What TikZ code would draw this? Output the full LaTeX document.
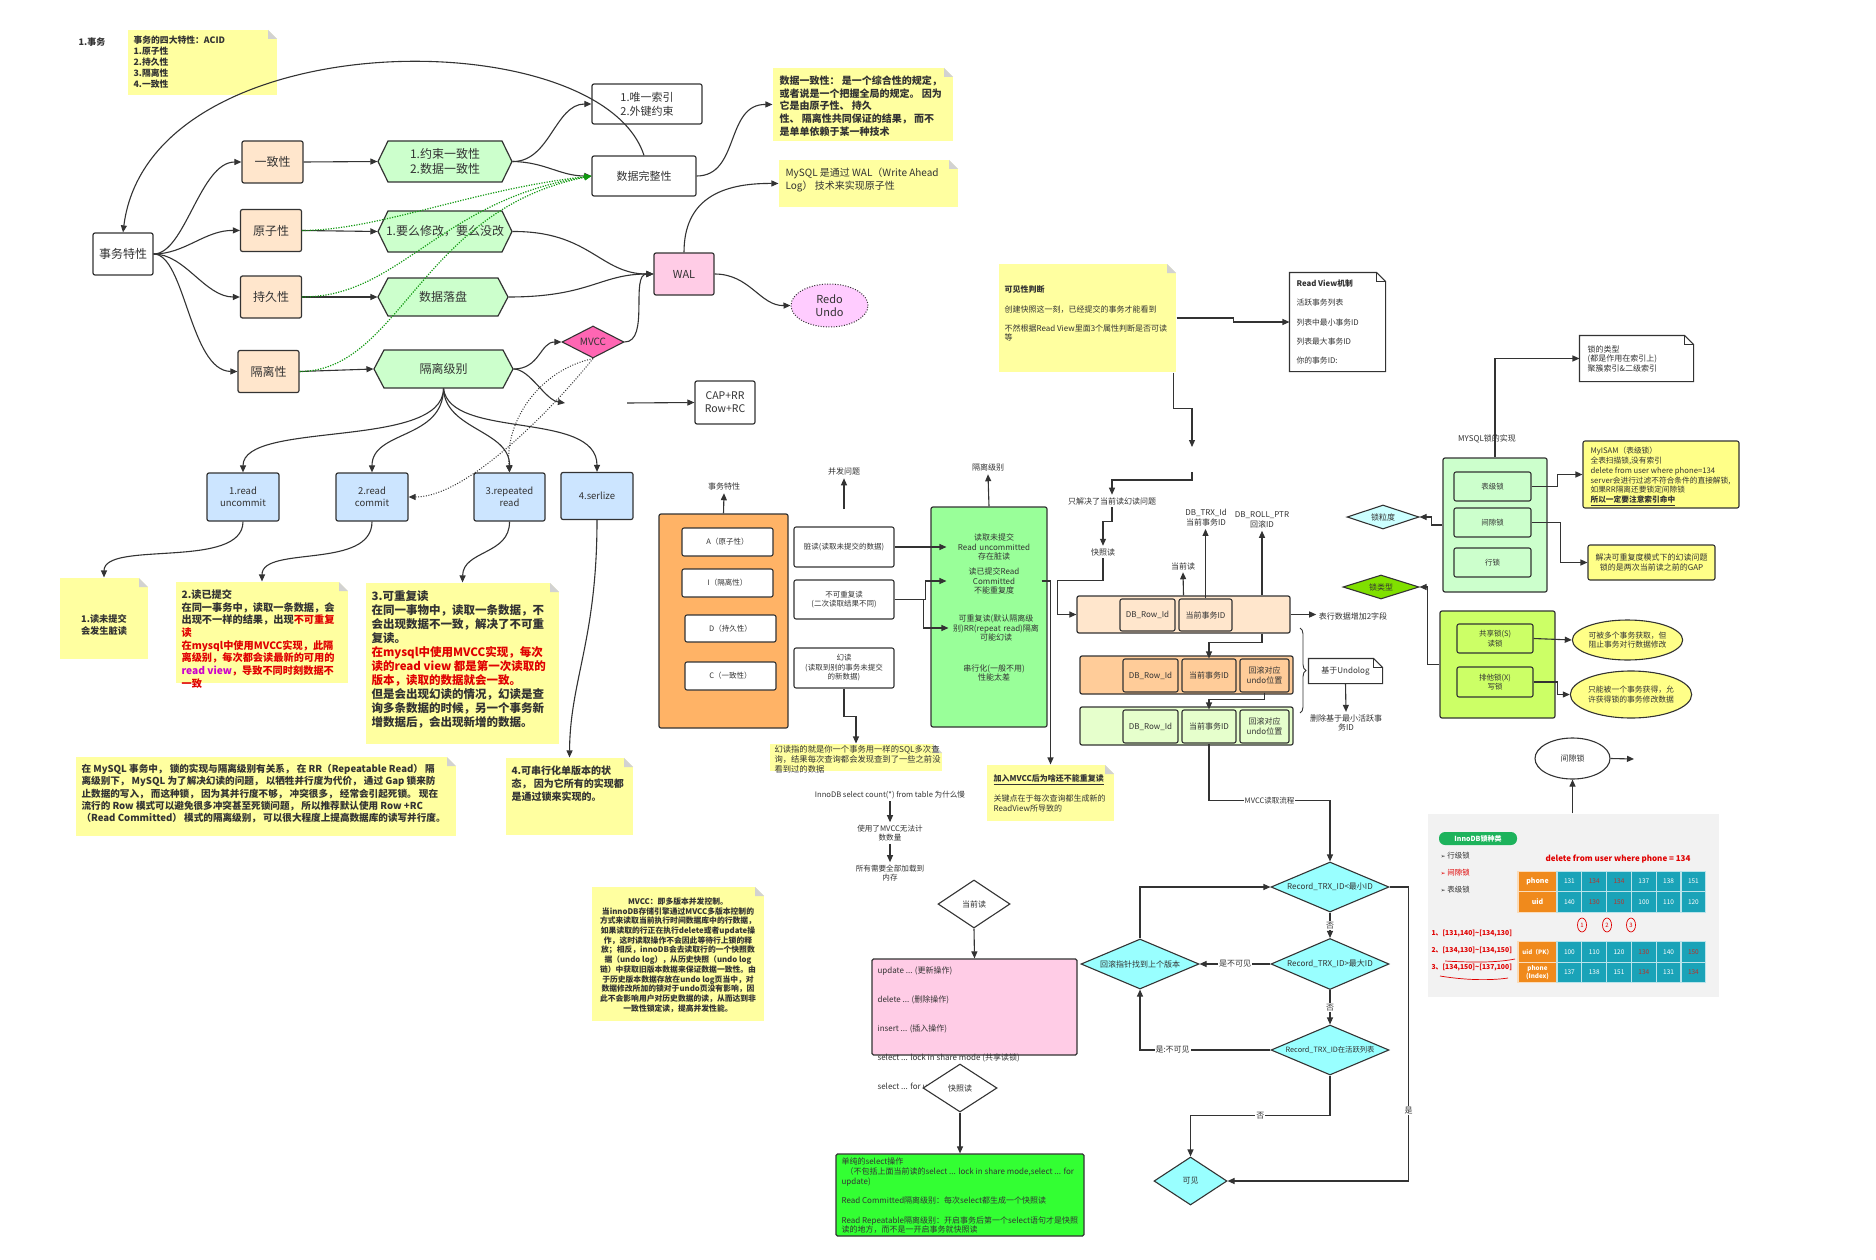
\documentclass[tikz,border=0pt]{standalone}
\usepackage{fontspec}
\setmainfont{Noto Sans CJK SC}[AutoFakeSlant=0.2]
\newfontfamily\dejavu{DejaVu Sans}
\usetikzlibrary{arrows.meta, shapes.geometric, calc, decorations.pathreplacing}

\definecolor{txtc}{HTML}{333333}
\definecolor{notey}{HTML}{FFFFA0}
\definecolor{peach}{HTML}{FFE6CC}
\definecolor{hexg}{HTML}{CCFFCC}
\definecolor{lblue}{HTML}{CCE5FF}
\definecolor{walp}{HTML}{FFCCE6}
\definecolor{mvccp}{HTML}{FF66B3}
\definecolor{redop}{HTML}{FFCCFF}
\definecolor{orbox}{HTML}{FFB366}
\definecolor{grbox}{HTML}{99FF99}
\definecolor{rowb}{HTML}{FFCC99}
\definecolor{rowc}{HTML}{E6FFCC}
\definecolor{cyand}{HTML}{99FFFF}
\definecolor{lcyan}{HTML}{CCFFFF}
\definecolor{lgreen}{HTML}{80E000}
\definecolor{lockg}{HTML}{CCFF66}
\definecolor{elly}{HTML}{FFFF88}
\definecolor{selg}{HTML}{33FF33}
\definecolor{panelc}{HTML}{F2F2F2}
\definecolor{tealc}{HTML}{1AA3B8}
\definecolor{hdrorg}{HTML}{F08A1C}
\definecolor{pillg}{HTML}{1DB35C}
\definecolor{dred}{HTML}{E00000}
\definecolor{tred}{HTML}{B8322A}
\definecolor{dmag}{HTML}{CC00CC}
\definecolor{gdotc}{HTML}{119911}

\newcommand\fs[2]{\fontsize{#1}{#2}\selectfont}
\newcommand\tr[1]{\textcolor{tred}{#1}}
% hexagon: name, x0, y0, x1, y1, text
\newcommand\hexa[6]{%
  \filldraw[fill=hexg, draw=txtc, line width=1.2pt] (#2,{(#3+#5)/2}) -- ({#2+10},#3) -- ({#4-10},#3) -- (#4,{(#3+#5)/2}) -- ({#4-10},#5) -- ({#2+10},#5) -- cycle;
  \node[minimum width={#4-#2}, minimum height={#5-#3}, inner sep=0pt, font=\fs{12}{15}, align=center] (#1) at ({(#2+#4)/2},{(#3+#5)/2}) {#6};}
% outline of a folded note
\newcommand\foldline[1]{%
  \draw[line width=1.1pt] (#1.south west) -- (#1.north west) -- ([xshift=-9pt]#1.north east) -- ([yshift=-9pt]#1.north east) -- (#1.south east) -- cycle;
  \draw[line width=1.1pt] ([xshift=-9pt]#1.north east) -- ([xshift=-9pt,yshift=-9pt]#1.north east) -- ([yshift=-9pt]#1.north east);}

\tikzset{
  box/.style={draw=txtc, line width=1.2pt, rounded corners=2pt, align=center, inner sep=1pt},
  pbox/.style={box, fill=peach, minimum width=61, minimum height=42, font=\fs{12}{14}},
  ibox/.style={box, fill=lblue, minimum width=72, minimum height=48, font=\fs{9.5}{12}},
  cell/.style={box, line width=1.1pt, font=\fs{7.5}{9.5}},
  note/.style={fill=notey, inner sep=0pt, path picture={
      \fill[white] (path picture bounding box.north east) -- ++(-9pt,0) -- ++(9pt,-9pt) -- cycle;
      \fill[gray!35] ([xshift=-9pt]path picture bounding box.north east) -- ++(0,-9pt) -- ++(9pt,0) -- cycle;}},
  fnote/.style={fill=white, inner sep=1pt},
  ybox/.style={fill=elly, draw=txtc, line width=1.1pt, rounded corners=2pt, inner sep=1pt},
  ntext/.style={anchor=north west, align=left, inner sep=0pt},
  lbl/.style={font=\fs{8}{9.8}, align=center, inner sep=2pt},
  lab/.style={fill=white, font=\fs{8}{9.8}, inner sep=1pt},
  dia/.style={diamond, draw=txtc, line width=1.1pt, inner sep=0pt, aspect=2.4, font=\fs{8}{9.8}},
  gdot/.style={draw=gdotc, line width=1.2pt, dash pattern=on 1.2pt off 1.4pt},
  kdot/.style={line width=1pt, dash pattern=on 1pt off 1.6pt},
  tcell/.style={draw=white!70!tealc, fill=tealc, text=white, font=\fs{6.5}{8}, minimum width=24.8, minimum height=20.5, inner sep=0pt},
  hcell/.style={draw=white!70!hdrorg, fill=hdrorg, text=white, font=\fs{7}{8}\bfseries, minimum width=39, minimum height=20.5, inner sep=0pt, align=center},
}

\begin{document}
\begin{tikzpicture}[x=1pt, y=-1pt, color=txtc, line width=1.1pt,
    >={Triangle[length=7pt,width=6pt]}]
  \fill[white] (0,0) rectangle (1876,1260);
  \useasboundingbox (0,0) rectangle (1876,1260);

  % Title and ACID note
  \node[font=\fs{9}{11}\bfseries] (title) at (92,42) {1.事务};
  \node[note, minimum width=149, minimum height=65] (acid) at (202.5,62.5) {};
  \node[ntext, font=\fs{8.8}{11}\bfseries] (acidtxt) at (133,35.5) {事务的四大特性：ACID\\1.原子性\\2.持久性\\3.隔离性\\4.一致性};

  % Root and the four properties
  \node[box, minimum width=60, minimum height=42, font=\fs{12}{14}] (sw) at (123,254) {事务特性};
  \node[pbox] (yz) at (272.5,162) {一致性};
  \node[pbox] (yzx) at (271,230.5) {原子性};
  \node[pbox] (cj) at (271,297) {持久性};
  \node[pbox] (gl) at (268.5,371.5) {隔离性};
  \hexa{h1}{378}{141}{512}{182}{1.约束一致性\\2.数据一致性}
  \hexa{h2}{378}{211}{512}{252}{1.要么修改，要么没改}
  \hexa{h3}{378}{278}{508}{316}{数据落盘}
  \hexa{h4}{374}{350}{513}{388}{隔离级别}

  \draw[->] (sw.east) .. controls (185,254) and (200,162) .. (yz.west);
  \draw[->] (sw.east) .. controls (185,254) and (205,230) .. (yzx.west);
  \draw[->] (sw.east) .. controls (185,254) and (205,297) .. (cj.west);
  \draw[->] (sw.east) .. controls (185,254) and (190,371) .. (gl.west);
  \draw[->] (yz.east) -- (h1.west);
  \draw[->] (yzx.east) -- (h2.west);
  \draw[->] (cj.east) -- (h3.west);
  \draw[->] (gl.east) -- (h4.west);

  % Integrity, WAL, MVCC
  \node[box, minimum width=110, minimum height=40, font=\fs{11}{14}] (wy) at (647,104) {1.唯一索引\\2.外键约束};
  \node[box, minimum width=104, minimum height=40, font=\fs{11}{14}] (sj) at (644,176) {数据完整性};
  \node[box, fill=walp, minimum width=60, minimum height=42, font=\fs{11}{14}] (wal) at (684,274) {WAL};
  \node[ellipse, draw=txtc, kdot, fill=redop, minimum width=77, minimum height=43, font=\fs{11}{13}, align=center, inner sep=0pt] (redo) at (829.5,305.5) {Redo\\Undo};
  \node[dia, aspect=2, fill=mvccp, minimum width=62, minimum height=32, font=\fs{10}{12}] (mvcc) at (593,342) {MVCC};
  \node[box, minimum width=60, minimum height=43, font=\fs{10.5}{13}] (cap) at (725,402.5) {CAP+RR\\Row+RC};

  \draw[->] (h1.east) .. controls (550,162) and (555,104) .. (wy.west);
  \draw[->] (h1.east) .. controls (545,162) and (560,176) .. (sj.west);
  \draw[gdot, ->] (yzx.east) .. controls (380,230) and (470,190) .. (sj.west);
  \draw[gdot, ->] (cj.east) .. controls (400,297) and (440,200) .. (sj.west);
  \draw[gdot, ->] (gl.east) .. controls (400,371) and (420,210) .. (sj.west);
  \draw[->] (sj.north) .. controls (600,20) and (150,20) .. (sw.north);
  \draw[->] (h2.east) .. controls (590,231) and (600,274) .. (wal.west);
  \draw[->] (h3.east) .. controls (590,297) and (600,274) .. (wal.west);
  \draw[->] (h4.east) .. controls (540,369) and (540,342) .. (mvcc.west);
  \draw[->] (mvcc.east) .. controls (650,342) and (630,274) .. (wal.west);
  \coordinate (capin) at (565,403);
  \coordinate (capout) at (627,403);
  \draw[->] (h4.east) .. controls (530,369) and (545,400) .. (capin);
  \draw[->] (capout) -- (cap.west);
  \draw[->] (wal.east) .. controls (750,274) and (760,306) .. (redo.west);

  % Notes top right
  \node[note, minimum width=180, minimum height=73] (sjyz) at (863,104.5) {};
  \node[ntext, font=\fs{10}{12.6}\bfseries] (sjyztxt) at (779,75.5) {数据一致性： 是一个综合性的规定，\\或者说是一个把握全局的规定。 因为\\它是由原子性、 持久\\性、 隔离性共同保证的结果， 而不\\是单单依赖于某一种技术};
  \node[note, minimum width=179, minimum height=47] (mnote) at (868.5,183.5) {};
  \node[ntext, font=\fs{10}{13}] (mnotetxt) at (785,167.5) {MySQL 是通过 WAL（Write Ahead\\Log） 技术来实现原子性};
  \draw[->] (sj.east) .. controls (740,176) and (725,104) .. (sjyz.west);
  \draw[->] (wal.north) .. controls (684,200) and (720,183) .. (mnote.west);

  % Isolation levels
  \node[ibox] (ru) at (243,497) {1.read\\uncommit};
  \node[ibox] (rc) at (372,497) {2.read\\commit};
  \node[ibox, minimum width=71] (rr) at (509.5,497) {3.repeated\\read};
  \node[ibox, minimum height=47] (sz) at (597,496) {4.serlize};
  \draw[->] (h4.south) .. controls (443,450) and (243,420) .. (ru.north);
  \draw[->] (h4.south) .. controls (443,440) and (372,430) .. (rc.north);
  \draw[->] (h4.south) .. controls (445,430) and (510,430) .. (rr.north);
  \draw[->] (h4.south) .. controls (450,440) and (597,410) .. (sz.north);
  \draw[kdot, ->] (mvcc.south) .. controls (560,400) and (470,497) .. (rc.east);
  \draw[kdot, ->] (mvcc.south) .. controls (540,370) and (505,420) .. (rr.north);

  % Isolation notes
  \node[note, minimum width=88, minimum height=81] (n1) at (104,618.5) {};
  \node[font=\fs{9.2}{12}\bfseries, align=center] (n1txt) at (104,625) {1.读未提交\\会发生脏读};
  \node[note, minimum width=172, minimum height=101] (n2) at (262,632.5) {};
  \node[ntext, font=\fs{10.2}{12.7}\bfseries] (n2txt) at (181,589) {2.读已提交\\在同一事务中，读取一条数据，会\\出现不一样的结果，出现\textcolor{dred}{不可重复}\\\textcolor{dred}{读}\\\textcolor{dred}{在mysql中使用MVCC实现，此隔}\\\textcolor{dred}{离级别，每次都会读最新的可用的}\\\textcolor{dmag}{read view}\textcolor{dred}{，导致不同时刻数据不}\\\textcolor{dred}{一致}};
  \node[note, minimum width=193, minimum height=161] (n3) at (462.5,663.5) {};
  \node[ntext, font=\fs{11.5}{14}\bfseries] (n3txt) at (371,590) {3.可重复读\\在同一事物中，读取一条数据，不\\会出现数据不一致，解决了不可重\\复读。\\\textcolor{dred}{在mysql中使用MVCC实现，每次}\\\textcolor{dred}{读的read view 都是第一次读取的}\\\textcolor{dred}{版本，读取的数据就会一致。}\\但是会出现幻读的情况，幻读是查\\询多条数据的时候，另一个事务新\\增数据后，会出现新增的数据。};
  \node[note, minimum width=127, minimum height=77] (n4) at (569.5,796.5) {};
  \node[ntext, font=\fs{10}{13}\bfseries] (n4txt) at (511,765.5) {4.可串行化单版本的状\\态， 因为它所有的实现都\\是通过锁来实现的。};
  \node[note, minimum width=380, minimum height=79] (n5) at (266,796.5) {};
  \node[ntext, font=\fs{9.6}{12.3}\bfseries] (n5txt) at (81,763.5) {在 MySQL 事务中， 锁的实现与隔离级别有关系， 在 RR（Repeatable Read） 隔\\离级别下， MySQL 为了解决幻读的问题， 以牺牲并行度为代价， 通过 Gap 锁来防\\止数据的写入， 而这种锁， 因为其并行度不够， 冲突很多， 经常会引起死锁。 现在\\流行的 Row 模式可以避免很多冲突甚至死锁问题， 所以推荐默认使用 Row +RC\\（Read Committed） 模式的隔离级别， 可以很大程度上提高数据库的读写并行度。};
  \draw[->] (ru.south) .. controls (243,570) and (104,540) .. (n1.north);
  \draw[->] (rc.south) .. controls (372,570) and (262,545) .. (n2.north);
  \draw[->] (rr.south) .. controls (510,555) and (463,550) .. (n3.north);
  \draw[->] (sz.south) .. controls (597,640) and (570,680) .. (n4.north);

  % ACID / concurrency / isolation overview
  \node[box, fill=orbox, minimum width=129, minimum height=214] (ob) at (723.5,621) {};
  \node[cell, fill=white, minimum width=91, minimum height=28] (oa) at (727.5,542) {A（原子性）};
  \node[cell, fill=white, minimum width=91, minimum height=28] (oi) at (727.5,583) {I（隔离性）};
  \node[cell, fill=white, minimum width=91, minimum height=27] (od) at (730.5,628.5) {D（持久性）};
  \node[cell, fill=white, minimum width=91, minimum height=28] (oc) at (730.5,676) {C（一致性）};
  \node[lbl, inner sep=3pt] (lsw) at (724,486) {事务特性};
  \draw[->] (ob.north) -- (lsw.south);
  \node[lbl, inner sep=3pt] (lbf) at (844,471) {并发问题};
  \coordinate (bfa) at (844,509);
  \draw[->] (bfa) -- (lbf.south);
  \node[cell, fill=white, minimum width=100, minimum height=40] (zd) at (844,547) {脏读(读取未提交的数据)};
  \node[cell, fill=white, minimum width=100, minimum height=39] (bk) at (844,599.5) {不可重复读\\(二次读取结果不同)};
  \node[cell, fill=white, minimum width=100, minimum height=40] (hd) at (844,668) {幻读\\(读取到别的事务未提交\\的新数据)};
  \node[box, fill=grbox, minimum width=116, minimum height=220] (gb) at (989,617) {};
  \node[lbl, inner sep=3pt] (lgl) at (988,467) {隔离级别};
  \draw[->] (gb.north) -- (lgl.south);
  \node[lbl, text width=90] (g1) at (994,547) {读取未提交\\Read uncommitted\\存在脏读};
  \node[lbl, text width=90] (g2) at (994,581) {读已提交Read\\Committed\\不能重复度};
  \node[lbl, text width=90] (g3) at (996,628) {可重复读(默认隔离级\\别)RR(repeat read)隔离\\可能幻读};
  \node[lbl, text width=90] (g4) at (994,673) {串行化(一般不用)\\性能太差};
  \draw[->] (zd.east) -- (g1.west);
  \draw[->] (bk.east) -- ++(31,0) |- (g2.west);
  \draw[->] (bk.east) -- ++(29,0) |- (g3.west);

  \node[note, minimum width=172, minimum height=27] (hdn) at (856,757.5) {};
  \node[ntext, font=\fs{8.3}{10}] (hdntxt) at (774,744.5) {幻读指的就是你一个事务用一样的SQL多次查\\询，结果每次查询都会发现查到了一些之前没\\看到过的数据};
  \draw[->] (hd.south) -- ++(0,28) -| (hdn.north);
  \node[note, minimum width=127, minimum height=56] (mv2) at (1050.5,793) {};
  \node[ntext, font=\fs{8}{10}] (mv2txt) at (993,774) {\underline{\textbf{加入MVCC后为啥还不能重复读}}\\[10pt]关键点在于每次查询都生成新的\\ReadView所导致的};
  \draw[->] (g2.east) -| (mv2.north);

  % count(*) chain
  \node[lbl, font=\fs{7.6}{9.5}] (cnt1) at (890,795) {InnoDB select count(*) from table 为什么慢};
  \node[lbl, font=\fs{7.6}{9.5}] (cnt2) at (890,833) {使用了MVCC无法计\\数数量};
  \node[lbl, font=\fs{7.6}{9.5}] (cnt3) at (890,873) {所有需要全部加载到\\内存};
  \draw[->] (cnt1) -- (cnt2);
  \draw[->] (cnt2) -- (cnt3);

  % Read View and hidden columns
  \node[note, minimum width=177, minimum height=108] (kj) at (1087.5,318) {};
  \node[ntext, font=\fs{8}{9.6}] (kjtxt) at (1004,285.5) {\textbf{可见性判断}\\[9.6pt]创建快照这一刻，已经提交的事务才能看到\\[9.6pt]不然根据Read View里面3个属性判断是否可读\\等};
  \node[fnote, minimum width=95, minimum height=98] (rv) at (1337.5,322) {};
  \foldline{rv}
  \node[ntext, font=\fs{7.8}{19.4}] (rvtxt) at (1296,279) {\textbf{\itshape Read View机制}\\活跃事务列表\\列表中最小事务ID\\列表最大事务ID\\你的事务ID:};
  \draw[->] (kj.east) -- ++(57,0) |- (rv.west);
  \coordinate (ka) at (1192,447);
  \coordinate (kb) at (1192,472);
  \draw[->] ([xshift=-3pt]kj.south east) -- ++(0,36) -| (ka);
  \node[lbl] (zj) at (1112,501) {只解决了当前读幻读问题};
  \draw[->] (kb) -- ++(0,8) -| (zj.north);
  \node[lbl] (kz) at (1103,552) {快照读};
  \draw[->] (zj.south) -- ++(0,14) -| (kz.north);

  \node[box, fill=peach, minimum width=213, minimum height=37] (r1) at (1183.5,614.5) {};
  \node[cell, fill=peach, minimum width=55, minimum height=32, font=\fs{8}{9.6}] (r1a) at (1147.5,615) {DB\_Row\_Id};
  \node[cell, fill=peach, minimum width=53, minimum height=32, font=\fs{8}{9.6}] (r1b) at (1205.5,615) {当前事务ID};
  \node[box, fill=rowb, minimum width=213, minimum height=38] (r2) at (1186.5,675) {};
  \node[cell, fill=rowb, minimum width=55, minimum height=33, font=\fs{8}{9.6}] (r2a) at (1150.5,675.5) {DB\_Row\_Id};
  \node[cell, fill=rowb, minimum width=54, minimum height=33, font=\fs{8}{9.6}] (r2b) at (1209,675.5) {当前事务ID};
  \node[cell, fill=rowb, minimum width=49, minimum height=33, font=\fs{8}{9.6}] (r2c) at (1264.5,675.5) {回滚对应\\undo位置};
  \node[box, fill=rowc, minimum width=213, minimum height=38] (r3) at (1186.5,726) {};
  \node[cell, fill=rowc, minimum width=55, minimum height=33, font=\fs{8}{9.6}] (r3a) at (1150.5,726.5) {DB\_Row\_Id};
  \node[cell, fill=rowc, minimum width=54, minimum height=33, font=\fs{8}{9.6}] (r3b) at (1209,726.5) {当前事务ID};
  \node[cell, fill=rowc, minimum width=49, minimum height=33, font=\fs{8}{9.6}] (r3c) at (1264.5,726.5) {回滚对应\\undo位置};
  \draw[->] (kz.south) -- ++(0,22) -| ([xshift=-19pt]r1.west) -- (r1.west);

  \node[lbl] (ld) at (1183,566) {当前读};
  \draw[->] (r1.north) -- (ld.south);
  \node[lbl] (ltrx) at (1206,518) {DB\_TRX\_Id\\当前事务ID};
  \draw[->] (r1b.north) -- (r1b.north |- ltrx.south);
  \node[lbl] (lroll) at (1262,520) {DB\_ROLL\_PTR\\回滚ID};
  \draw[->] (lroll.south |- r1.north) -- (lroll.south);
  \node[lbl] (ladd) at (1353,616) {表行数据增加2字段};
  \draw[->] (r1.east) -- (r1.east -| ladd.west);
  \draw[->] (lroll.south |- r1.south) -- ++(0,9) -| (r2b.north);
  \draw[->] (r2c.south) -- ++(0,7) -| (r3b.north);
  \draw[decorate, decoration={brace, amplitude=6pt}, line width=0.9pt] (1300,628) -- (1300,713);
  \node[fnote, minimum width=73, minimum height=24, font=\fs{8}{10}] (un) at (1345.5,671) {基于Undolog};
  \foldline{un}
  \node[lbl] (ldel) at (1346,723) {删除基于最小活跃事\\务ID};
  \draw[->] (un.south) -- (ldel.north);

  % MySQL locks
  \node[dia, aspect=3, fill=lcyan, minimum width=72, minimum height=24] (lgd) at (1383,517) {锁粒度};
  \node[dia, aspect=3, fill=lgreen, minimum width=76, minimum height=24] (llx) at (1381,587) {锁类型};
  \node[box, fill=hexg, minimum width=104, minimum height=134] (lk) at (1495,525) {};
  \node[cell, fill=hexg, minimum width=77, minimum height=29] (l1) at (1492.5,486.5) {表级锁};
  \node[cell, fill=hexg, minimum width=77, minimum height=29] (l2) at (1492.5,522.5) {间隙锁};
  \node[cell, fill=hexg, minimum width=77, minimum height=29] (l3) at (1492.5,562.5) {行锁};
  \node[lbl] (lmy) at (1487,439) {MYSQL锁的实现};
  \node[fnote, minimum width=113, minimum height=45] (lt) at (1636.5,358.5) {};
  \foldline{lt}
  \node[ntext, font=\fs{8}{9.6}] (lttxt) at (1587,345) {锁的类型\\(都是作用在索引上)\\聚簇索引\&二级索引};
  \draw[->] (lk.north) |- (lt.west);
  \draw[->] (lk.west) -- ++(-11,0) |- (lgd.east);
  \node[ybox, minimum width=156, minimum height=67] (mi) at (1661,474.5) {};
  \node[ntext, font=\fs{7.7}{9.8}] (mitxt) at (1590,446.5) {MyISAM（表级锁）\\全表扫描锁,没有索引\\delete from user where phone=134\\server会进行过滤不符合条件的直接解锁,\\如果RR隔离还要锁定间隙锁\\\underline{\textbf{\itshape 所以一定要注意索引命中}}};
  \draw[->] (l1.east) -- ++(26,0) |- (mi.west);
  \node[ybox, minimum width=127, minimum height=35, font=\fs{8}{9.6}, align=center] (gn) at (1651.5,562.5) {解决可重复度模式下的幻读问题\\锁的是两次当前读之前的GAP};
  \draw[->] (l2.east) -- ++(29,0) |- (gn.west);

  \node[box, fill=lockg, minimum width=115, minimum height=107] (lx) at (1497.5,664.5) {};
  \node[cell, fill=lockg, minimum width=76, minimum height=29] (s1) at (1495,638.5) {共享锁(S)\\读锁};
  \node[cell, fill=lockg, minimum width=76, minimum height=30] (s2) at (1495,682) {排他锁(X)\\写锁};
  \draw[->] (lx.west) -- ++(-12,0) |- (llx.east);
  \node[ellipse, draw=txtc, fill=elly, minimum width=97, minimum height=40, font=\fs{7.8}{9.6}, align=center, inner sep=0pt] (e1) at (1627.5,640) {可被多个事务获取，但\\阻止事务对行数据修改};
  \node[ellipse, draw=txtc, fill=elly, minimum width=102, minimum height=47, font=\fs{7.8}{9.6}, align=center, inner sep=0pt] (e2) at (1631,694.5) {只能被一个事务获得，允\\许获得锁的事务修改数据};
  \draw[->] (s1.east) -- (e1.west);
  \draw[->] (s2.east) -- ++(24,0) |- (e2.west);

  % InnoDB lock picture
  \node[ellipse, draw=txtc, fill=white, minimum width=75, minimum height=41, font=\fs{8}{10}] (gx) at (1572.5,758.5) {间隙锁};
  \coordinate (gxr) at (1634,759);
  \draw[->] (gx.east) -- (gxr);
  \node[fill=panelc, minimum width=291, minimum height=183, inner sep=0pt] (pn) at (1573.5,905.5) {};
  \draw[->] (pn.north -| gx.south) -- (gx.south);
  \node[fill=pillg, rounded corners=6pt, minimum width=78, minimum height=13, inner sep=0pt, text=white, font=\fs{7}{8}\bfseries] (pill) at (1478,838.5) {InnoDB锁种类};
  \node[ntext, font=\fs{7.5}{17}] (bul) at (1440,851.5) {{\dejavu\fs{6}{17}➢} 行级锁\\\textcolor{dred}{{\dejavu\fs{6}{17}➢} 间隙锁}\\{\dejavu\fs{6}{17}➢} 表级锁};
  \node[font=\fs{8}{10}\bfseries, text=dred] (deltxt) at (1618,859) {delete from user where phone = 134};
  \node[hcell] (ha) at (1537.5,881.5) {phone};
  \node[hcell] (hb) at (1537.5,902) {uid};
  \foreach \v [count=\i] in {131,\tr{134},\tr{134},137,138,151}
    \node[tcell] (pa\i) at ({1544.6+24.8*\i},881.5) {\v};
  \foreach \v [count=\i] in {140,\tr{130},\tr{150},100,110,120}
    \node[tcell] (pb\i) at ({1544.6+24.8*\i},902) {\v};
  \node[hcell, font=\fs{6}{7}\bfseries] (hc) at (1537.5,952) {uid（PK）};
  \node[hcell, font=\fs{6.3}{7.5}\bfseries] (hd2) at (1537.5,972.5) {phone\\(Index)};
  \foreach \v [count=\i] in {100,110,120,\tr{130},140,\tr{150}}
    \node[tcell] (pc\i) at ({1544.6+24.8*\i},952) {\v};
  \foreach \v [count=\i] in {137,138,151,\tr{134},131,\tr{134}}
    \node[tcell] (pd\i) at ({1544.6+24.8*\i},972.5) {\v};
  \foreach \x [count=\i] in {1582,1607,1631}
    \node[ellipse, draw=dred, line width=0.7pt, minimum width=9, minimum height=14, inner sep=0pt, text=dred, font=\fs{6}{7}] (m\i) at (\x,925) {\i};
  \node[ntext, font=\fs{6.8}{16.8}\bfseries, text=dred] (gaps) at (1431,929.5) {1、[131,140]\textasciitilde[134,130]\\2、[134,130]\textasciitilde[134,150]\\3、[134,150]\textasciitilde[137,100]};
  \draw[dred, line width=0.7pt] (1445,961) .. controls (1480,963) and (1500,962) .. (1515,959);
  \draw[dred, line width=0.7pt] (1440,976) .. controls (1470,981) and (1495,980) .. (1508,978);

  % MVCC note and current / snapshot read
  \node[note, minimum width=172, minimum height=134] (mn) at (678,954) {};
  \node[font=\fs{7.8}{9.7}\bfseries, align=center] (mntxt) at (678,955) {MVCC：即多版本并发控制。\\当innoDB存储引擎通过MVCC多版本控制的\\方式来读取当前执行时间数据库中的行数据，\\如果读取的行正在执行delete或者update操\\作，这时读取操作不会因此等待行上锁的释\\放；相反，innoDB会去读取行的一个快照数\\据（undo log），从历史快照（undo log\\链）中获取旧版本数据来保证数据一致性。由\\于历史版本数据存放在undo log页当中，对\\数据修改所加的锁对于undo页没有影响，因\\此不会影响用户对历史数据的读，从而达到非\\一致性锁定读，提高并发性能。};
  \node[dia, aspect=1.5, fill=white, minimum width=72, minimum height=48] (dq) at (974,904) {当前读};
  \node[box, fill=walp, rounded corners=1.5pt, minimum width=205, minimum height=96] (pk) at (974.5,1007) {};
  \node[ntext, font=\fs{8}{29}] (pktxt) at (877,966) {update ... (更新操作)\\delete ... (删除操作)\\insert ... (插入操作)\\select ... lock in share mode (共享读锁)\\select ... for update};
  \node[dia, aspect=1.5, fill=white, minimum width=74, minimum height=48] (dk) at (960,1088) {快照读};
  \node[box, fill=selg, rounded corners=1.5pt, minimum width=248, minimum height=82] (gg) at (960,1195) {};
  \node[ntext, font=\fs{8}{9.7}] (ggtxt) at (841,1157.5) {单纯的select操作\\\hspace{4pt}（不包括上面当前读的select ... lock in share mode,select ... for\\update)\\[9.7pt]Read Committed隔离级别：每次select都生成一个快照读\\[9.7pt]Read Repeatable隔离级别：开启事务后第一个select语句才是快照\\读的地方，而不是一开启事务就快照读};
  \draw[->] (dq.south) -- (pk.north);
  \draw[->] (dk.south) -- (gg.north);

  % MVCC read flow
  \node[dia, fill=cyand, minimum width=118, minimum height=50] (d1) at (1330,887) {Record\_TRX\_ID<最小ID};
  \node[dia, fill=cyand, minimum width=118, minimum height=51] (d2) at (1330,964) {Record\_TRX\_ID>最大ID};
  \node[dia, fill=cyand, minimum width=118, minimum height=50, font=\fs{7.3}{9}] (d3) at (1330,1050) {Record\_TRX\_ID在活跃列表};
  \node[dia, fill=cyand, minimum width=118, minimum height=50] (d4) at (1140,964) {回滚指针找到上个版本};
  \node[dia, aspect=1.5, fill=cyand, minimum width=73, minimum height=48] (d5) at (1190.5,1181) {可见};
  \draw[->] (r3b.south) -- ++(0,57) -| node[lab, pos=0.25, font=\fs{7.5}{9}] {MVCC读取流程} (d1.north);
  \draw[->] (d1.south) -- node[lab] {否} (d2.north);
  \draw[->] (d2.south) -- node[lab] {否} (d3.north);
  \draw[->] (d2.west) -- node[lab] {是不可见} (d4.east);
  \draw[->] (d3.west) -| node[lab, pos=0.375] {是:不可见} (d4.south);
  \draw[->] (d4.north) |- (d1.west);
  \draw[->] (d1.east) -- ++(19,0) |- node[lab, pos=0.38] {是} (d5.east);
  \draw[->] (d3.south) -- ++(0,40) -| node[lab, pos=0.25] {否} (d5.north);
\end{tikzpicture}
\end{document}
